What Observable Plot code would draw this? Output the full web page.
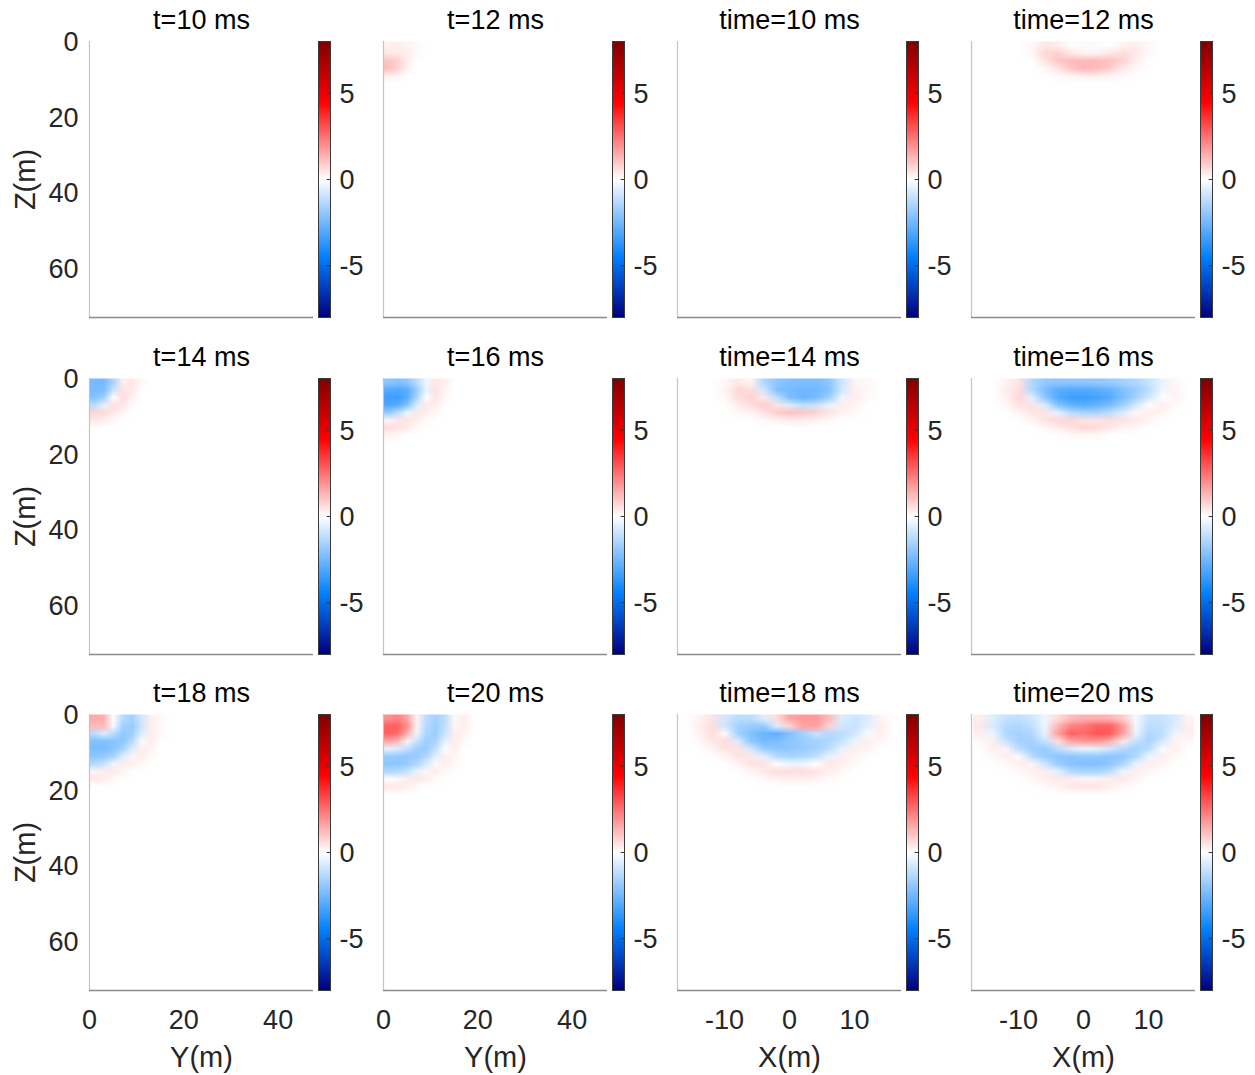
<!DOCTYPE html>
<html>
<head>
<meta charset="utf-8">
<script src="https://cdn.jsdelivr.net/npm/d3@7"></script>
<script src="https://cdn.jsdelivr.net/npm/@observablehq/plot@0.6"></script>
<style>
  body { margin: 0; background: #fff; }
  #fig { position: relative; width: 1255px; height: 1075px; overflow: hidden; background: #fff; }
</style>
</head>
<body>
<div id="fig"></div>
<script>
// ---------------- data ----------------
const timesLeft = [10, 14, 18];     // columns 1 and 3
const timesRight = [12, 16, 20];    // columns 2 and 4
const zTicks = [0, 20, 40, 60];
const yTicks = [0, 20, 40];
const xTicks = [-10, 0, 10];
const cTicks = [-5, 0, 5];
const zDomain = [0, 73];
const yDomain = [0, 47.5];
const xDomain = [-17.25, 17.25];
const cDomain = [-8, 8];
const cStops = [-8, -4.5, 0, 4.5, 8];
const cColors = ["#000080", "#0080ff", "#ffffff", "#ff0000", "#800000"];

// Wavefield samples, 2 m cells. Y-section grids: Y = 0..20 m (10 cells), rows from Z = 0 down.
const gridY10 = [];
const gridY12 = [
  [0.2, 0.3, 0.2, 0.1, 0, 0, 0, 0, 0, 0],
  [0.4, 0.4, 0.3, 0.1, 0, 0, 0, 0, 0, 0],
  [1.0, 0.8, 0.3, 0, 0, 0, 0, 0, 0, 0],
  [1.2, 0.8, 0.2, 0, 0, 0, 0, 0, 0, 0],
  [0.3, 0.2, 0, 0, 0, 0, 0, 0, 0, 0],
  [0, 0, 0, 0, 0, 0, 0, 0, 0, 0]
];
const gridY14 = [
  [-2.4, -2.4, -1.5, 0.3, 0.4, 0.1, 0, 0, 0, 0],
  [-2.4, -2.3, -1.0, 0.5, 0.4, 0, 0, 0, 0, 0],
  [-2.1, -1.7, 0.0, 0.6, 0.2, 0, 0, 0, 0, 0],
  [-1.2, -0.4, 0.6, 0.4, 0.1, 0, 0, 0, 0, 0],
  [0.7, 0.7, 0.4, 0.1, 0, 0, 0, 0, 0, 0],
  [0.4, 0.3, 0.1, 0, 0, 0, 0, 0, 0, 0],
  [0, 0, 0, 0, 0, 0, 0, 0, 0, 0]
];
const gridY16 = [
  [-2.0, -2.2, -2.0, -1.2, -0.3, 0.4, 0.3, 0, 0, 0],
  [-3.0, -3.1, -2.9, -1.8, -0.4, 0.5, 0.2, 0, 0, 0],
  [-3.4, -3.4, -2.9, -1.5, 0.0, 0.5, 0.1, 0, 0, 0],
  [-3.1, -2.9, -2.1, -0.6, 0.4, 0.3, 0, 0, 0, 0],
  [-1.8, -1.2, -0.3, 0.4, 0.3, 0.1, 0, 0, 0, 0],
  [0.2, 0.4, 0.5, 0.3, 0.1, 0, 0, 0, 0, 0],
  [0.6, 0.5, 0.3, 0.1, 0, 0, 0, 0, 0, 0],
  [0.2, 0.1, 0, 0, 0, 0, 0, 0, 0, 0],
  [0, 0, 0, 0, 0, 0, 0, 0, 0, 0]
];
const gridY18 = [
  [1.5, 1.4, 0.0, -1.3, -1.6, -0.8, 0.3, 0.1, 0, 0],
  [1.2, 1.2, -0.2, -1.6, -1.8, -0.9, 0.3, 0.1, 0, 0],
  [-1.2, -0.6, -1.2, -1.9, -1.7, -0.6, 0.3, 0.1, 0, 0],
  [-2.2, -2.2, -2.1, -2.0, -1.3, -0.1, 0.3, 0, 0, 0],
  [-2.3, -2.3, -2.1, -1.6, -0.6, 0.3, 0.2, 0, 0, 0],
  [-2.0, -1.9, -1.5, -0.6, 0.2, 0.3, 0.1, 0, 0, 0],
  [-1.3, -1.0, -0.3, 0.3, 0.3, 0.1, 0, 0, 0, 0],
  [0.2, 0.3, 0.4, 0.2, 0, 0, 0, 0, 0, 0],
  [0.4, 0.3, 0.1, 0, 0, 0, 0, 0, 0, 0],
  [0, 0, 0, 0, 0, 0, 0, 0, 0, 0]
];
const gridY20 = [
  [2.0, 2.2, 1.6, 0.2, -1.2, -1.6, -1.2, 0.1, 0.3, 0],
  [2.8, 2.8, 2.0, 0.2, -1.3, -1.7, -1.1, 0.2, 0.3, 0],
  [2.8, 2.6, 1.4, -0.3, -1.5, -1.7, -0.9, 0.3, 0.2, 0],
  [1.6, 1.2, 0.2, -1.0, -1.7, -1.5, -0.5, 0.3, 0.1, 0],
  [-0.4, -0.6, -1.1, -1.7, -1.8, -1.1, 0.0, 0.3, 0, 0],
  [-1.8, -1.9, -1.9, -1.8, -1.4, -0.5, 0.3, 0.2, 0, 0],
  [-2.0, -2.0, -1.8, -1.4, -0.7, 0.1, 0.3, 0.1, 0, 0],
  [-1.4, -1.3, -1.0, -0.4, 0.2, 0.3, 0.1, 0, 0, 0],
  [0.0, 0.1, 0.3, 0.4, 0.3, 0.1, 0, 0, 0, 0],
  [0.4, 0.4, 0.3, 0.1, 0, 0, 0, 0, 0, 0],
  [0, 0, 0, 0, 0, 0, 0, 0, 0, 0]
];

// X-section grids: X = -17..17 m (17 cells centred at -16..16), rows from Z = 0 down.
const gridX10 = [];
const gridX12 = [
  [0, 0, 0, 0, 0.1, 0.4, 0.3, 0, -0.1, -0.1, 0, 0.2, 0.3, 0.1, 0, 0, 0],
  [0, 0, 0, 0, 0.1, 0.7, 0.8, 0.4, 0.2, 0.2, 0.4, 0.6, 0.4, 0.1, 0, 0, 0],
  [0, 0, 0, 0, 0, 0.5, 1.0, 1.2, 1.2, 1.2, 1.1, 0.8, 0.3, 0, 0, 0, 0],
  [0, 0, 0, 0, 0, 0.1, 0.5, 1.0, 1.3, 1.2, 0.9, 0.4, 0.1, 0, 0, 0, 0],
  [0, 0, 0, 0, 0, 0, 0.1, 0.2, 0.3, 0.3, 0.2, 0.1, 0, 0, 0, 0, 0],
  [0, 0, 0, 0, 0, 0, 0, 0, 0, 0, 0, 0, 0, 0, 0, 0, 0]
];
const gridX14 = [
  [0, 0, 0, 0.1, 0.4, 0.2, -1.4, -2.0, -2.2, -2.3, -2.3, -2.0, -0.9, 0.2, 0.1, 0, 0],
  [0, 0, 0, 0.2, 0.7, 0.6, -0.8, -2.2, -2.4, -2.5, -2.5, -2.2, -0.8, 0.3, 0.1, 0, 0],
  [0, 0, 0, 0.1, 0.6, 0.8, 0.4, -1.1, -2.3, -2.6, -2.4, -1.7, -0.3, 0.3, 0.1, 0, 0],
  [0, 0, 0, 0, 0.3, 0.6, 0.9, 0.5, -0.6, -1.1, -0.9, -0.4, 0.3, 0.2, 0, 0, 0],
  [0, 0, 0, 0, 0.1, 0.2, 0.5, 0.9, 1.1, 1.0, 0.8, 0.5, 0.2, 0.1, 0, 0, 0],
  [0, 0, 0, 0, 0, 0, 0.1, 0.2, 0.3, 0.3, 0.2, 0.1, 0, 0, 0, 0, 0],
  [0, 0, 0, 0, 0, 0, 0, 0, 0, 0, 0, 0, 0, 0, 0, 0, 0]
];
const gridX16 = [
  [0, 0, 0.2, 0.5, -1.4, -1.9, -2.0, -2.0, -2.0, -1.9, -1.8, -1.6, -1.4, -1.0, -0.4, 0.1, 0],
  [0, 0, 0.3, 0.6, -1.3, -2.3, -2.9, -3.0, -3.0, -2.9, -2.7, -2.2, -1.8, -1.2, -0.3, 0.2, 0],
  [0, 0, 0.2, 0.7, -0.5, -2.0, -3.0, -3.4, -3.4, -3.3, -3.0, -2.3, -1.6, -0.8, 0.0, 0.2, 0],
  [0, 0, 0.1, 0.5, 0.5, -0.6, -2.1, -2.7, -2.9, -2.7, -2.3, -1.7, -0.8, 0.0, 0.3, 0.1, 0],
  [0, 0, 0, 0.2, 0.5, 0.5, -0.4, -1.2, -1.5, -1.5, -1.2, -0.6, 0.1, 0.3, 0.2, 0, 0],
  [0, 0, 0, 0, 0.2, 0.5, 0.7, 0.7, 0.5, 0.5, 0.6, 0.5, 0.4, 0.2, 0, 0, 0],
  [0, 0, 0, 0, 0, 0.1, 0.3, 0.5, 0.7, 0.6, 0.4, 0.2, 0.1, 0, 0, 0, 0],
  [0, 0, 0, 0, 0, 0, 0, 0.1, 0.1, 0.1, 0, 0, 0, 0, 0, 0, 0],
  [0, 0, 0, 0, 0, 0, 0, 0, 0, 0, 0, 0, 0, 0, 0, 0, 0]
];
const gridX18 = [
  [0, 0.2, 0.5, -0.8, -1.2, -1.2, -0.6, 0.6, 1.6, 1.8, 1.8, 1.2, -0.6, -0.9, -0.6, 0.2, 0],
  [0, 0.3, 0.6, -0.8, -1.6, -1.8, -1.8, -0.6, 0.8, 1.6, 1.7, 0.8, -0.8, -1.0, -0.5, 0.3, 0],
  [0, 0.2, 0.6, 0.1, -1.6, -2.2, -2.6, -2.8, -2.2, -1.6, -1.0, -1.3, -1.2, -0.8, -0.1, 0.3, 0],
  [0, 0.1, 0.4, 0.6, -0.6, -2.0, -2.4, -2.3, -2.0, -1.8, -1.6, -1.4, -1.0, -0.3, 0.3, 0.1, 0],
  [0, 0, 0.2, 0.5, 0.5, -0.8, -1.8, -2.0, -2.0, -1.8, -1.6, -1.2, -0.4, 0.3, 0.2, 0, 0],
  [0, 0, 0, 0.2, 0.5, 0.4, -0.5, -1.3, -1.5, -1.4, -1.1, -0.4, 0.3, 0.2, 0, 0, 0],
  [0, 0, 0, 0, 0.2, 0.5, 0.5, 0.0, -0.3, -0.3, 0.0, 0.4, 0.3, 0.1, 0, 0, 0],
  [0, 0, 0, 0, 0, 0.2, 0.4, 0.6, 0.6, 0.6, 0.5, 0.3, 0.1, 0, 0, 0, 0],
  [0, 0, 0, 0, 0, 0, 0.1, 0.2, 0.3, 0.3, 0.2, 0.1, 0, 0, 0, 0, 0],
  [0, 0, 0, 0, 0, 0, 0, 0, 0, 0, 0, 0, 0, 0, 0, 0, 0]
];
const gridX20 = [
  [0.3, -0.6, -1.0, -1.1, -0.9, -0.3, 0.6, 1.2, 1.4, 1.4, 1.3, 0.9, -0.2, -1.0, -1.0, -0.7, 0.2],
  [0.4, -0.7, -1.3, -1.4, -1.1, -0.3, 1.3, 2.2, 2.4, 2.8, 2.8, 1.8, -0.2, -1.2, -1.1, -0.6, 0.3],
  [0.3, -0.3, -1.4, -1.6, -1.4, -0.4, 1.7, 2.8, 2.6, 3.0, 2.9, 1.7, -0.4, -1.4, -1.2, -0.3, 0.3],
  [0.1, 0.3, -1.0, -1.6, -1.6, -1.0, 0.6, 1.6, 1.8, 1.9, 1.4, 0.4, -1.0, -1.5, -0.8, 0.2, 0.1],
  [0, 0.3, 0.2, -1.2, -1.7, -1.8, -1.2, -0.6, -0.3, -0.4, -0.8, -1.3, -1.6, -1.2, -0.1, 0.3, 0],
  [0, 0.1, 0.3, 0.1, -1.2, -1.8, -2.0, -2.0, -1.9, -1.9, -2.0, -1.9, -1.4, -0.3, 0.3, 0.1, 0],
  [0, 0, 0.1, 0.3, 0.2, -0.9, -1.8, -2.1, -2.2, -2.2, -2.0, -1.5, -0.4, 0.3, 0.2, 0, 0],
  [0, 0, 0, 0.1, 0.3, 0.3, -0.5, -1.3, -1.5, -1.5, -1.2, -0.3, 0.3, 0.2, 0, 0, 0],
  [0, 0, 0, 0, 0.1, 0.3, 0.4, 0.3, 0.2, 0.2, 0.3, 0.4, 0.2, 0, 0, 0, 0],
  [0, 0, 0, 0, 0, 0.1, 0.2, 0.4, 0.5, 0.5, 0.3, 0.1, 0, 0, 0, 0, 0],
  [0, 0, 0, 0, 0, 0, 0, 0, 0, 0, 0, 0, 0, 0, 0, 0, 0]
];

// ---------------- drawing ----------------
const fig = document.getElementById("fig");
const FONT = "'Liberation Sans', Arial, Helvetica, sans-serif";
const TXT = "#262626";
const frameW = 224, frameH = 276;
const colLeft = [89, 383, 677, 971];
const rowTop = [41, 378, 714];
const colorOpts = {type: "linear", domain: cStops, range: cColors, interpolate: "rgb", clamp: true};
const cell = 2; // grid cell size in metres
const tickFont = 27, titleFont = 27, labelFont = 29;

function place(svg, left, top) {
  svg.style.position = "absolute";
  svg.style.left = left + "px";
  svg.style.top = top + "px";
  svg.style.background = "transparent";
  svg.style.overflow = "visible";
  svg.style.maxWidth = "none";
  fig.appendChild(svg);
}

function drawPanel(row, col, kind, t, grid) {
  const isY = kind === "Y";
  const hDomain = isY ? yDomain : xDomain;
  const hTicks = isY ? yTicks : xTicks;
  const gx1 = isY ? 0 : -17, gx2 = isY ? 20 : 17;
  const mL = 90, mR = 10, mT = 45, mB = 95;
  const marks = [];
  if (grid.length) {
    marks.push(Plot.raster(grid.flat(), {
      width: grid[0].length, height: grid.length,
      x1: gx1, x2: gx2, y1: 0, y2: grid.length * cell,
      fill: d => d, clip: true
    }));
  }
  marks.push(Plot.ruleX([hDomain[0]], {stroke: "#c4c4c4", strokeWidth: 1.2}));
  marks.push(Plot.ruleY([zDomain[1]], {stroke: "#8a8a8a", strokeWidth: 1.3}));
  marks.push(Plot.text([(isY ? "t=" : "time=") + t + " ms"], {
    text: d => d, frameAnchor: "top", lineAnchor: "middle", dy: -21, fontSize: titleFont, fill: "#000"
  }));
  if (col === 0) {
    marks.push(Plot.axisY(zTicks, {
      anchor: "left", tickSize: 0, tickPadding: 11, fontSize: tickFont, color: TXT, dy: 1,
      tickFormat: d => String(d)
    }));
    marks.push(Plot.text(["Z(m)"], {
      text: d => d, frameAnchor: "left", textAnchor: "middle", lineAnchor: "middle",
      dx: -64, rotate: -90, fontSize: labelFont, fill: TXT
    }));
  }
  if (row === 2) {
    marks.push(Plot.axisX(hTicks, {
      anchor: "bottom", tickSize: 0, tickPadding: 19, fontSize: tickFont, color: TXT,
      tickFormat: d => String(d)
    }));
    marks.push(Plot.text([isY ? "Y(m)" : "X(m)"], {
      text: d => d, frameAnchor: "bottom", lineAnchor: "middle", dy: 67, fontSize: labelFont, fill: TXT
    }));
  }
  const svg = Plot.plot({
    width: mL + frameW + mR, height: mT + frameH + mB,
    marginLeft: mL, marginRight: mR, marginTop: mT, marginBottom: mB,
    style: {fontFamily: FONT, background: "transparent"},
    x: {domain: hDomain, axis: null},
    y: {domain: zDomain, reverse: true, axis: null},
    color: colorOpts,
    marks
  });
  place(svg, colLeft[col] - mL, rowTop[row] - mT);

  // colour bar
  const ramp = d3.range(cDomain[0], cDomain[1] + 1e-9, 0.05);
  const cbL = 2, cbR = 50, cbT = 5, cbB = 5, cbW = 12;
  const cb = Plot.plot({
    width: cbL + cbW + cbR, height: cbT + frameH + cbB,
    marginLeft: cbL, marginRight: cbR, marginTop: cbT, marginBottom: cbB,
    style: {fontFamily: FONT, background: "transparent"},
    x: {domain: [0, 1], axis: null},
    y: {domain: cDomain, axis: null},
    color: colorOpts,
    marks: [
      Plot.raster(ramp, {width: 1, height: ramp.length, x1: 0, x2: 1, y1: cDomain[0], y2: cDomain[1], fill: d => d}),
      Plot.ruleY(cTicks, {x1: 0.72, x2: 1, stroke: "#333", strokeWidth: 1}),
      Plot.frame({stroke: "#3a3a3a", strokeWidth: 1}),
      Plot.axisY(cTicks, {anchor: "right", tickSize: 0, tickPadding: 9, fontSize: tickFont, color: TXT, dy: 1, tickFormat: d => String(d)})
    ]
  });
  place(cb, colLeft[col] + frameW + 5 - cbL, rowTop[row] - cbT);
}

const gridsYLeft = [gridY10, gridY14, gridY18];
const gridsYRight = [gridY12, gridY16, gridY20];
const gridsXLeft = [gridX10, gridX14, gridX18];
const gridsXRight = [gridX12, gridX16, gridX20];
for (let r = 0; r < 3; ++r) {
  drawPanel(r, 0, "Y", timesLeft[r], gridsYLeft[r]);
  drawPanel(r, 1, "Y", timesRight[r], gridsYRight[r]);
  drawPanel(r, 2, "X", timesLeft[r], gridsXLeft[r]);
  drawPanel(r, 3, "X", timesRight[r], gridsXRight[r]);
}
</script>
</body>
</html>
